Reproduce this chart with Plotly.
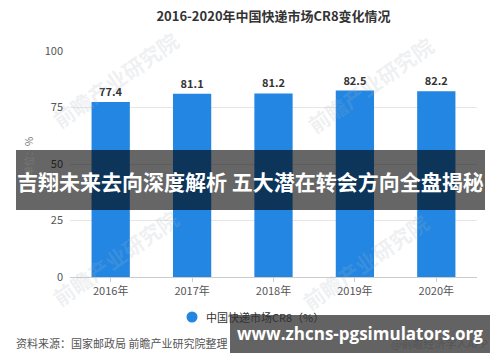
import plotly.graph_objects as go

years = ["2016年", "2017年", "2018年", "2019年", "2020年"]
cr8 = [77.4, 81.1, 81.2, 82.5, 82.2]
y_ticks = [0, 25, 50, 75, 100]
title = "2016-2020年中国快递市场CR8变化情况"
legend_name = "中国快递市场CR8（%）"
source = "资料来源：国家邮政局 前瞻产业研究院整理"
overlay_text = "吉翔未来去向深度解析 五大潜在转会方向全盘揭秘"
url_text = "www.zhcns-pgsimulators.org"
watermark = "前瞻产业研究院"

FONT = "Noto Sans CJK SC"
BLUE = "#2286e2"
L, R, T, B = 70, 477, 51, 277
W, H = R - L, B - T


def px(xp):
    return (xp - L) / W


def py(yp):
    return (B - yp) / H


fig = go.Figure()
fig.add_trace(go.Bar(
    x=years, y=cr8, marker_color=BLUE, name=legend_name,
    text=[f"{v:.1f}" for v in cr8], textposition="outside",
    textfont=dict(size=11, color="#333", family=FONT, weight="bold"),
    cliponaxis=False, showlegend=False,
))

fig.update_layout(
    template="none",
    width=500, height=362,
    margin=dict(l=L, r=500 - R, t=T, b=362 - B, autoexpand=False),
    paper_bgcolor="white", plot_bgcolor="white",
    font=dict(family=FONT, size=11, color="#555"),
    bargap=0.53,
    showlegend=False,
    title=dict(text=title, x=0.5, xanchor="center", xref="paper", y=1 - 16 / 362, yanchor="middle",
               font=dict(size=13, color="#333", family=FONT, weight="bold")),
)
fig.update_yaxes(range=[0, 100], tickvals=y_ticks, showgrid=True, gridcolor="#e6e6e6", gridwidth=1,
                 zeroline=False, showline=False, ticks="", ticklabelstandoff=6, automargin=False,
                 tickfont=dict(size=11, color="#555"))
fig.update_xaxes(showline=True, linecolor="#ccc", ticks="outside", ticklen=4, tickcolor="#ccc",
                 automargin=False, showgrid=False, tickfont=dict(size=11, color="#555"))

# faint watermarks
for wx, wy in [(115, 80), (370, 85), (115, 258), (365, 262)]:
    fig.add_annotation(xref="paper", yref="paper", x=px(wx), y=py(wy), text=watermark,
                       showarrow=False, textangle=-35, xanchor="center", yanchor="middle",
                       font=dict(size=21, color="rgba(170,180,190,0.2)", family=FONT, weight="bold"))

# unit label
fig.add_annotation(xref="paper", yref="paper", x=px(28), y=py(157), text="单位：%", showarrow=False,
                   textangle=-90, xanchor="center", yanchor="middle",
                   font=dict(size=10, color="#777"))

# legend (manual)
fig.add_shape(type="circle", xref="paper", yref="paper", xsizemode="pixel", ysizemode="pixel",
              xanchor=px(192), yanchor=py(317), x0=-5.5, x1=5.5, y0=-5.5, y1=5.5,
              fillcolor=BLUE, line_width=0)
fig.add_annotation(xref="paper", yref="paper", x=px(204), y=py(317), xanchor="left", yanchor="middle",
                   text=legend_name, showarrow=False, font=dict(size=11, color="#333"))
# source
fig.add_annotation(xref="paper", yref="paper", x=px(14), y=py(343), xanchor="left", yanchor="middle",
                   text=source, showarrow=False, font=dict(size=11, color="#555"))
fig.add_annotation(xref="paper", yref="paper", x=px(490), y=py(343), xanchor="right", yanchor="middle",
                   text="@前瞻经济学人APP", showarrow=False, font=dict(size=11, color="#555"))

# overlay band
fig.add_shape(type="rect", xref="paper", yref="paper", x0=px(16), x1=px(485), y0=py(210), y1=py(150),
              fillcolor="rgba(0,0,0,0.6)", line_width=0, layer="above")
fig.add_annotation(xref="paper", yref="paper", x=px(250), y=py(181), xanchor="center", yanchor="middle",
                   text=overlay_text, showarrow=False,
                   font=dict(size=21, color="white", family=FONT, weight="bold"))

# url box
fig.add_shape(type="rect", xref="paper", yref="paper", x0=px(230), x1=px(490), y0=py(353), y1=py(315),
              fillcolor="rgba(72,72,72,0.85)", line_width=0, layer="above")
fig.add_annotation(xref="paper", yref="paper", x=px(360), y=py(333), xanchor="center", yanchor="middle",
                   text=url_text, showarrow=False,
                   font=dict(size=17, color="white", family="Open Sans", weight="bold"))

fig.write_html("out.html", config={"displayModeBar": False},
               post_script="document.body.style.margin='0';")
